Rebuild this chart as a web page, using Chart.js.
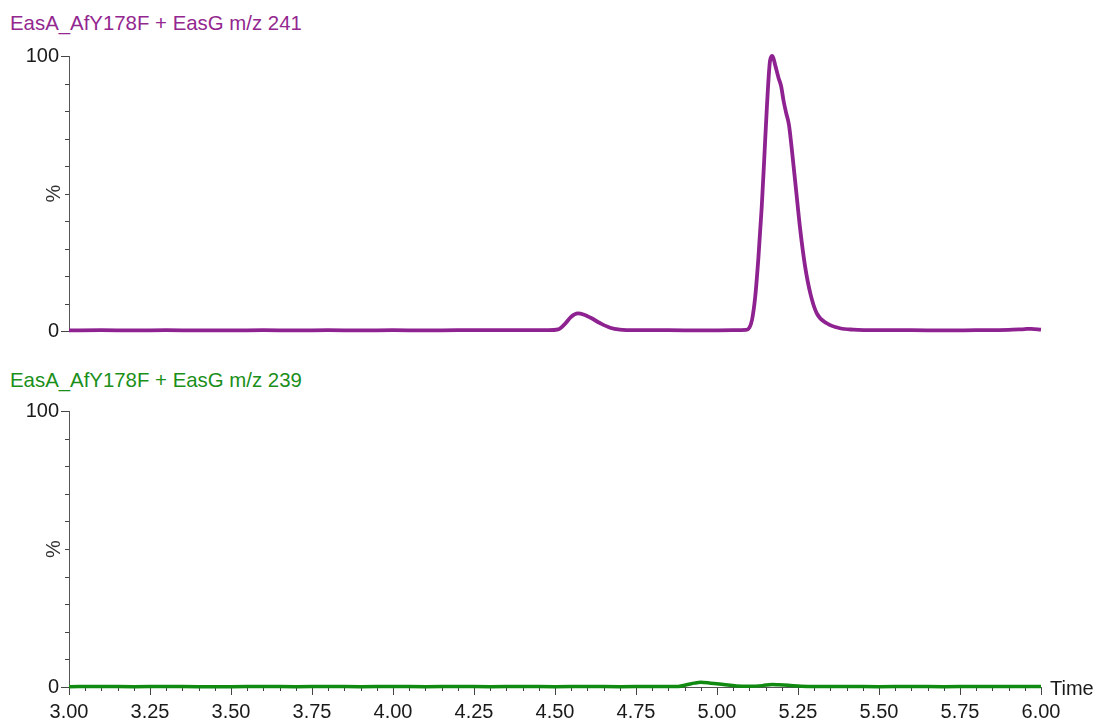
<!DOCTYPE html>
<html>
<head>
<meta charset="utf-8">
<script src="https://cdn.jsdelivr.net/npm/chart.js@4/dist/chart.umd.min.js"></script>
<style>
  body { margin: 0; background: #fff; width: 1099px; height: 720px; overflow: hidden; position: relative; }
  canvas { position: absolute; left: 0; }
  .trace-title { position: absolute; left: 10px; font: 20.4px "Liberation Sans", Arial, sans-serif; line-height: 20px; white-space: nowrap; }
</style>
</head>
<body>
<div class="trace-title" id="title-241" style="top:13px;color:#93278f;">EasA_AfY178F + EasG m/z 241</div>
<canvas id="chart-241" width="1099" height="350" style="top:0;"></canvas>
<div class="trace-title" id="title-239" style="top:370px;color:#1a8f1a;">EasA_AfY178F + EasG m/z 239</div>
<canvas id="chart-239" width="1099" height="360" style="top:360px;"></canvas>
<script>
// データ ---------------
const timeRange = [3.0, 6.0];
const xTickLabels = ["3.00", "3.25", "3.50", "3.75", "4.00", "4.25", "4.50", "4.75", "5.00", "5.25", "5.50", "5.75", "6.00"];
const yTickLabels = ["0", "100"];

// m/z 241 (purple)
const times241 = [3.00, 3.10, 3.20, 3.30, 3.40, 3.50, 3.60, 3.70, 3.80, 3.90, 4.00, 4.10, 4.20, 4.30, 4.40, 4.48,
  4.51, 4.53, 4.55, 4.57, 4.59, 4.61, 4.64, 4.67, 4.70, 4.75, 4.85, 4.95, 5.05, 5.09,
  5.100, 5.108, 5.118, 5.128, 5.138, 5.146, 5.154, 5.164, 5.171, 5.180, 5.190, 5.198, 5.205,
  5.213, 5.222, 5.231, 5.244, 5.257, 5.272, 5.288, 5.308, 5.339, 5.380, 5.420,
  5.50, 5.60, 5.70, 5.80, 5.90, 5.95, 5.97, 6.00];
const pct241 = [0.2, 0.3, 0.2, 0.3, 0.2, 0.2, 0.3, 0.2, 0.3, 0.2, 0.3, 0.2, 0.3, 0.3, 0.3, 0.3,
  0.6, 2.5, 5.2, 6.4, 5.9, 4.8, 2.8, 1.2, 0.5, 0.3, 0.3, 0.2, 0.3, 0.4,
  1.2, 4.0, 12.5, 27.0, 45.0, 63.0, 81.5, 98.5, 100.0, 96.5, 92.0, 89.0, 84.0,
  79.5, 75.0, 66.0, 51.3, 36.7, 23.4, 13.7, 6.4, 2.8, 1.0, 0.5,
  0.3, 0.3, 0.2, 0.3, 0.4, 0.7, 0.8, 0.5];

// m/z 239 (green)
const times239 = [3.00, 3.10, 3.20, 3.30, 3.40, 3.50, 3.60, 3.70, 3.80, 3.90, 4.00, 4.10, 4.20, 4.30, 4.40, 4.50,
  4.60, 4.70, 4.80, 4.88, 4.91, 4.93, 4.95, 4.98, 5.02, 5.06, 5.10, 5.14, 5.17, 5.19, 5.22, 5.26, 5.30,
  5.40, 5.50, 5.60, 5.70, 5.80, 5.90, 6.00];
const pct239 = [0.1, 0.2, 0.1, 0.2, 0.1, 0.1, 0.2, 0.1, 0.2, 0.1, 0.2, 0.1, 0.2, 0.1, 0.2, 0.1,
  0.2, 0.1, 0.2, 0.2, 0.9, 1.4, 1.7, 1.4, 0.9, 0.4, 0.3, 0.5, 0.9, 0.8, 0.6, 0.3, 0.2,
  0.2, 0.1, 0.2, 0.1, 0.2, 0.2, 0.2];

const FONT = "'Liberation Sans', Arial, sans-serif";
const TICK_COLOR = "#444";

// 小目盛り ---------------
const minorTicks = {
  id: "minorTicks",
  beforeDatasetsDraw(chart) {
    const ctx = chart.ctx;
    const y = chart.scales.y;
    const x = chart.scales.x;
    ctx.save();
    ctx.strokeStyle = TICK_COLOR;
    ctx.lineWidth = 1;
    ctx.beginPath();
    for (let v = 10; v < 100; v += 10) {
      const py = Math.round(y.getPixelForValue(v)) + 0.5;
      ctx.moveTo(y.right - 4, py);
      ctx.lineTo(y.right, py);
    }
    if (x.options.display) {
      for (let i = 0; i <= 60; i++) {
        if (i % 5 === 0) continue;
        const px = Math.round(x.getPixelForValue(3 + i * 0.05)) + 0.5;
        ctx.moveTo(px, x.top);
        ctx.lineTo(px, x.top + 4);
      }
    }
    ctx.stroke();
    ctx.restore();
  }
};

// Time ラベル
const timeLabel = {
  id: "timeLabel",
  afterDraw(chart) {
    const ctx = chart.ctx;
    ctx.save();
    ctx.font = "20px " + FONT;
    ctx.fillStyle = "#1a1a1a";
    ctx.textBaseline = "middle";
    ctx.fillText("Time", chart.chartArea.right + 9, chart.scales.y.getPixelForValue(0) + 2);
    ctx.restore();
  }
};

function makeOptions(showX, padTop) {
  return {
    responsive: false,
    animation: false,
    layout: { padding: { top: padTop, right: 58, bottom: showX ? 0 : 19, left: 0 } },
    plugins: { legend: { display: false }, tooltip: { enabled: false } },
    scales: {
      x: {
        type: "linear",
        min: timeRange[0],
        max: timeRange[1],
        display: showX,
        afterBuildTicks: (scale) => { scale.ticks = xTickLabels.map(t => ({ value: parseFloat(t) })); },
        afterFit: (scale) => { scale.height = showX ? 33 : 0; },
        border: { display: true, color: "#555", width: 1 },
        grid: { drawOnChartArea: false, drawTicks: true, tickLength: 8, tickColor: TICK_COLOR },
        ticks: {
          padding: 5,
          color: "#1a1a1a",
          font: { family: FONT, size: 20 },
          maxRotation: 0,
          autoSkip: false,
          callback: (v) => xTickLabels.find(t => parseFloat(t) === v) || ""
        }
      },
      y: {
        min: 0,
        max: 100,
        afterBuildTicks: (scale) => { scale.ticks = yTickLabels.map(t => ({ value: Number(t) })); },
        afterFit: (scale) => { scale.width = 69; },
        border: { display: true, color: "#555", width: 1 },
        grid: { drawOnChartArea: false, drawTicks: true, tickLength: 8, tickColor: TICK_COLOR },
        ticks: {
          padding: 2,
          color: "#1a1a1a",
          font: { family: FONT, size: 20 },
          callback: (v) => String(v)
        },
        title: {
          display: true,
          text: "%",
          color: "#333",
          font: { family: FONT, size: 20 },
          padding: { top: 42, bottom: 0 }
        }
      }
    }
  };
}

function makeDataset(times, pct, color, width) {
  return {
    data: times.map((t, i) => ({ x: t, y: pct[i] })),
    borderColor: color,
    borderWidth: width,
    pointRadius: 0,
    cubicInterpolationMode: "monotone",
    fill: false,
    clip: false
  };
}

// グラフ描画 ---------------
new Chart(document.getElementById("chart-241").getContext("2d"), {
  type: "line",
  data: { datasets: [makeDataset(times241, pct241, "#8e2290", 3.8)] },
  options: makeOptions(false, 56),
  plugins: [minorTicks]
});

new Chart(document.getElementById("chart-239").getContext("2d"), {
  type: "line",
  data: { datasets: [makeDataset(times239, pct239, "#108a10", 3.5)] },
  options: makeOptions(true, 51),
  plugins: [minorTicks, timeLabel]
});
</script>
</body>
</html>
